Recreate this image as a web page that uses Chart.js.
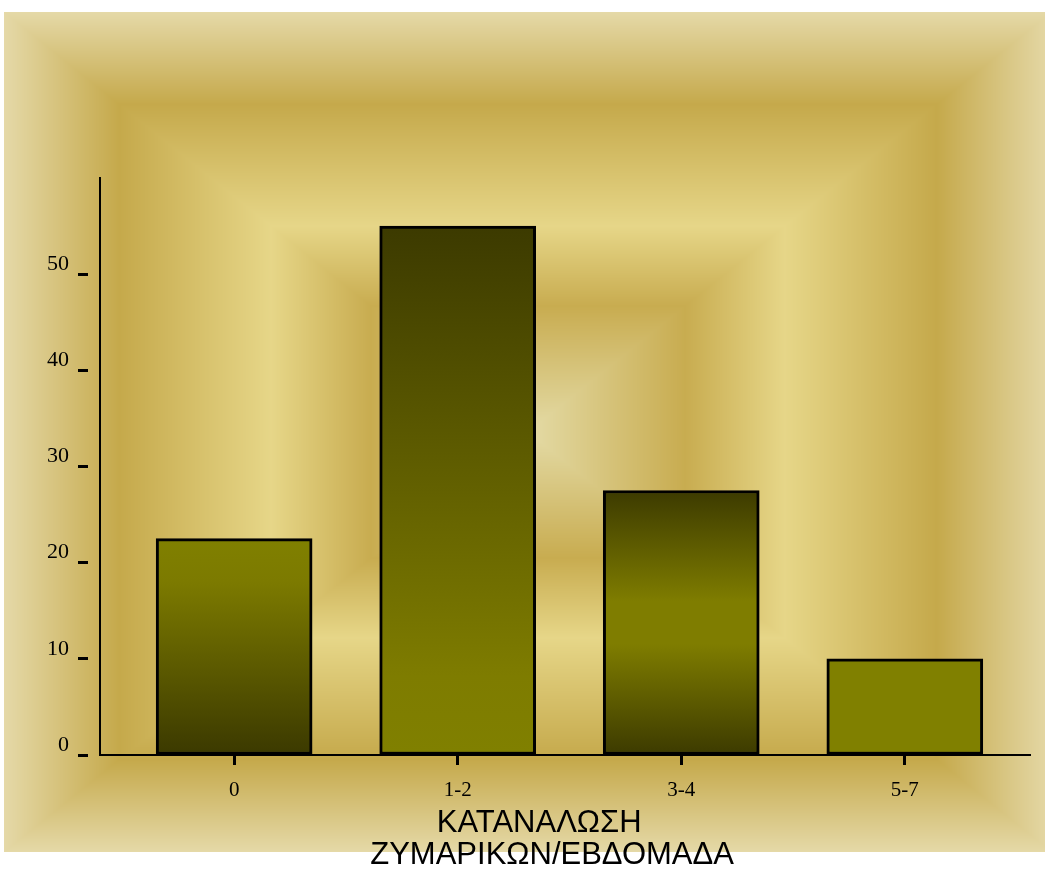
<!DOCTYPE html>
<html>
<head>
<meta charset="utf-8">
<script src="https://cdn.jsdelivr.net/npm/chart.js@4.4.1/dist/chart.umd.min.js"></script>
<style>
  body { margin: 0; background: #fff; }
  canvas { display: block; }
</style>
</head>
<body>
<canvas id="pastaChart" width="1045" height="871"></canvas>
<script>
const categories = ['0', '1-2', '3-4', '5-7'];
const pastaValues = [22.5, 55, 27.5, 10];
const yTickValues = [0, 10, 20, 30, 40, 50];
const axisTitle = ['ΚΑΤΑΝΑΛΩΣΗ      ', 'ΖΥΜΑΡΙΚΩΝ/ΕΒΔΟΜΑΔΑ   '];

// shading of each bar, top -> bottom
const barShades = [
    [[0, '#808000'], [0.2, '#7c7a00'], [1, '#3b3900']],
    [[0, '#3c3a00'], [0.85, '#7e7c00'], [1, '#808000']],
    [[0, '#3c3a00'], [0.42, '#7f7d00'], [0.58, '#7f7d00'], [1, '#3c3a00']],
    [[0, '#808000'], [1, '#808000']]
];

// frame background: t = 0 at centre, 1 at the edge
const frameStops = [[0, '#e4dba6'], [0.3, '#c8ac50'], [0.49, '#e6d688'], [0.78, '#c5a94b'], [1, '#e5d9a8']];

let hexRgb = (h) => [1, 3, 5].map(i => parseInt(h.substr(i, 2), 16));
let stopsRgb = frameStops.map(s => [s[0], hexRgb(s[1])]);

let colourAt = (t) => {
    for (let i = 1; i < stopsRgb.length; i++) {
        if (t <= stopsRgb[i][0]) {
            const [t0, c0] = stopsRgb[i - 1];
            const [t1, c1] = stopsRgb[i];
            const f = (t - t0) / (t1 - t0);
            return c0.map((v, k) => v + (c1[k] - v) * f);
        }
    }
    return stopsRgb[stopsRgb.length - 1][1];
};

let bgImage;
function buildBackground(ctx, w, h) {
    const img = ctx.createImageData(w, h);
    const x0 = 4, y0 = 12, x1 = 1052, y1 = 852;
    const cx = (x0 + x1) / 2, cy = (y0 + y1) / 2;
    const hw = (x1 - x0) / 2, hh = (y1 - y0) / 2;
    for (let y = 0; y < h; y++) {
        for (let x = 0; x < w; x++) {
            const p = (y * w + x) * 4;
            let c = [255, 255, 255];
            if (x >= x0 && x < x1 && y >= y0 && y < y1) {
                const t = Math.min(1, Math.max(Math.abs(x + 0.5 - cx) / hw, Math.abs(y + 0.5 - cy) / hh));
                c = colourAt(t);
            }
            img.data[p] = c[0];
            img.data[p + 1] = c[1];
            img.data[p + 2] = c[2];
            img.data[p + 3] = 255;
        }
    }
    return img;
}

const framePlugin = {
    id: 'frameBackground',
    beforeDraw(chart) {
        if (!bgImage) bgImage = buildBackground(chart.ctx, chart.width, chart.height);
        chart.ctx.putImageData(bgImage, 0, 0);
    }
};

let barFill = (c) => {
    const chart = c.chart;
    const y = chart.scales.y;
    if (!chart.chartArea || !y) return '#808000';
    const top = y.getPixelForValue(c.raw);
    const base = y.getPixelForValue(0);
    const g = chart.ctx.createLinearGradient(0, top, 0, base);
    barShades[c.dataIndex].forEach(([o, col]) => g.addColorStop(o, col));
    return g;
};

const serifFamily = "'Liberation Serif', 'Times New Roman', serif";

let ctx = document.getElementById('pastaChart').getContext('2d');
let pastaChart = new Chart(ctx, {
    type: 'bar',
    data: {
        labels: categories,
        datasets: [{
            data: pastaValues,
            backgroundColor: barFill,
            borderColor: '#000',
            borderWidth: 3,
            borderSkipped: false,
            barThickness: 156
        }]
    },
    options: {
        responsive: false,
        animation: false,
        layout: { padding: { top: 178, right: 15, left: 0, bottom: 0 } },
        plugins: {
            legend: { display: false },
            tooltip: { enabled: false }
        },
        scales: {
            x: {
                grid: { drawOnChartArea: false, offset: false, tickLength: 10, tickWidth: 3, tickColor: '#000' },
                border: { display: true, color: '#000', width: 2 },
                ticks: { color: '#000', padding: 13, maxRotation: 0, font: { family: serifFamily, size: 21 } },
                title: {
                    display: true,
                    text: axisTitle,
                    color: '#000',
                    padding: { top: 0, bottom: 0 },
                    font: { family: "'Liberation Sans', Arial, sans-serif", size: 31, lineHeight: 1.03 }
                },
                // categories are not evenly spread across the axis line in the original
                afterBuildTicks: (s) => { s._startValue = -0.6; s._valueRange = 4.16; },
                afterFit: (s) => { s.height = 116; }
            },
            y: {
                min: 0,
                max: 60,
                grid: { drawOnChartArea: false, tickLength: 22, tickWidth: 3, tickColor: '#000', tickBorderDash: [10, 40] },
                border: { display: true, color: '#000', width: 2 },
                ticks: { stepSize: 10, color: '#000', padding: 9, labelOffset: -10, font: { family: serifFamily, size: 22 } },
                afterBuildTicks: (s) => { s.ticks = s.ticks.filter(t => yTickValues.includes(t.value)); },
                afterFit: (s) => { s.width = 100; }
            }
        }
    },
    plugins: [framePlugin]
});
</script>
</body>
</html>
